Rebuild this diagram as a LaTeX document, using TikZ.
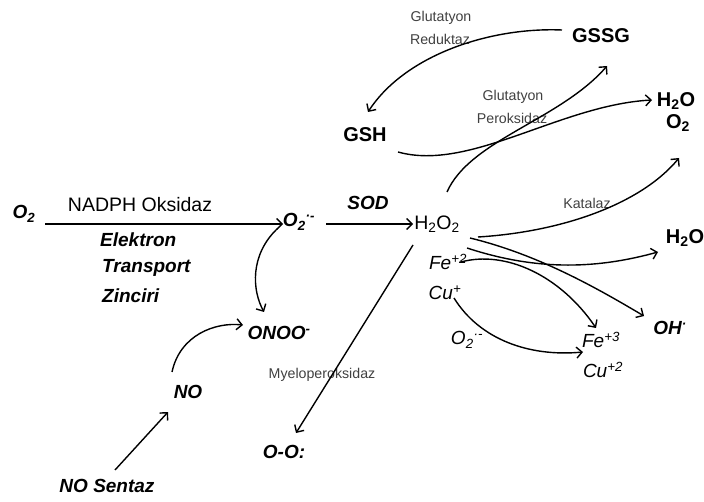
\documentclass[tikz,border=0pt]{standalone}
\usepackage{fontspec}
\setmainfont{Liberation Sans}
\usetikzlibrary{arrows.meta}
\newcommand\lsub[1]{\textsubscript{#1}}
\newcommand\lsup[1]{\textsuperscript{#1}}
\begin{document}
\begin{tikzpicture}[x=1pt,y=-1pt,
  lbl/.style={inner sep=0pt, font=\fontsize{19.5}{19.5}\selectfont},
  bi/.style={inner sep=0pt, font=\fontsize{19}{19}\selectfont\bfseries\itshape},
  it/.style={inner sep=0pt, font=\fontsize{19}{19}\selectfont\itshape},
  bd/.style={inner sep=0pt, font=\fontsize{20}{20}\selectfont\bfseries},
  sm/.style={inner sep=0pt, font=\fontsize{14.2}{14.2}\selectfont, text=black!75},
  arr/.style={-{Straight Barb[length=5.5pt,width=11pt]}, line width=1.4pt},
  ln/.style={line width=1.4pt}]
\useasboundingbox (0,0) rectangle (704,502);
% nodes
\node[bi] (o2) at (24,214) {O\lsub{2}};
\node[lbl] (nadph) at (140,205) {NADPH Oksidaz};
\node[bi, anchor=west] (elek) at (100,240) {Elektron};
\node[bi, anchor=west] (trans) at (102,268) {Transport};
\node[bi, anchor=west] (zinc) at (102,296) {Zinciri};
\node[bi] (o2r) at (299,222) {O\lsub{2}\lsup{·-}};
\node[bi] (sod) at (368,203) {SOD};
\node[lbl] (h2o2) at (437,224) {H\lsub{2}O\lsub{2}};
\node[bi] (onoo) at (279,333) {ONOO\lsup{-}};
\node[bi] (no) at (188,392) {NO};
\node[bi] (nos) at (107,486) {NO Sentaz};
\node[bi] (oo) at (284,452) {O-O:};
\node[sm] (myelo) at (322,375) {Myeloperoksidaz};
\node[it] (fe2) at (448,262) {Fe\lsup{+2}};
\node[it] (cu1) at (445,293) {Cu\lsup{+}};
\node[it] (o2s) at (467,340) {O\lsub{2}\lsup{·-}};
\node[it] (fe3) at (601,340) {Fe\lsup{+3}};
\node[it] (cu2) at (603,370) {Cu\lsup{+2}};
\node[bi] (oh) at (670,328) {OH\lsup{·}};
\node[bd] (h2om) at (685,238) {H\lsub{2}O};
\node[bd] (h2ot) at (676,101) {H\lsub{2}O};
\node[bd] (o2t) at (678,123) {O\lsub{2}};
\node[bd] (gssg) at (601,36) {GSSG};
\node[bd] (gsh) at (365,135) {GSH};
\node[sm] (glr1) at (441,18) {Glutatyon};
\node[sm] (glr2) at (440,39) {Reduktaz};
\node[sm] (glp1) at (513,97) {Glutatyon};
\node[sm] (glp2) at (512,118) {Peroksidaz};
\node[sm] (kat) at (587,203) {Katalaz};
% connectors
\draw[arr] ([shift={(21,10)}]o2.center) -- ([shift={(-16,2)}]o2r.center);
\draw[arr] ([shift={(-22,7)}]o2r.center) .. controls (250,255) and (252,290) .. ([shift={(-15,-21)}]onoo.center);
\draw[arr] ([shift={(27,2)}]o2r.center) -- ([shift={(-24,0)}]h2o2.center);
\draw[arr] ([shift={(8,-16)}]nos.center) -- ([shift={(-20,20)}]no.center);
\draw[arr] ([shift={(-16,-20)}]no.center) .. controls (180,335) and (215,322) .. ([shift={(-36,-8)}]onoo.center);
\draw[arr] ([shift={(-24,21)}]h2o2.center) -- ([shift={(12,-19)}]oo.center);
\draw[arr] ([shift={(-39,-6)}]gssg.center) .. controls (490,27) and (405,55) .. ([shift={(3,-23)}]gsh.center);
\draw[arr] ([shift={(33,17)}]gsh.center) .. controls (470,172) and (560,105) .. ([shift={(-24,-1)}]h2ot.center);
\draw[arr] ([shift={(10,-32)}]h2o2.center) .. controls (470,140) and (560,120) .. ([shift={(6,30)}]gssg.center);
\draw[arr] ([shift={(41,13)}]h2o2.center) .. controls (560,232) and (640,205) .. ([shift={(1,35)}]o2t.center);
\draw[arr] ([shift={(33,14)}]h2o2.center) .. controls (540,255) and (600,290) .. ([shift={(-26,-12)}]oh.center);
\draw[arr] ([shift={(30,24)}]h2o2.center) .. controls (540,272) and (600,268) .. ([shift={(-27,14)}]h2om.center);
\draw[arr] ([shift={(13,0)}]fe2.center) .. controls (505,250) and (560,275) .. ([shift={(-5,-12)}]fe3.center);
\draw[arr] ([shift={(9,5)}]cu1.center) .. controls (480,340) and (530,357) .. ([shift={(-18,12)}]fe3.center);
\end{tikzpicture}
\end{document}
